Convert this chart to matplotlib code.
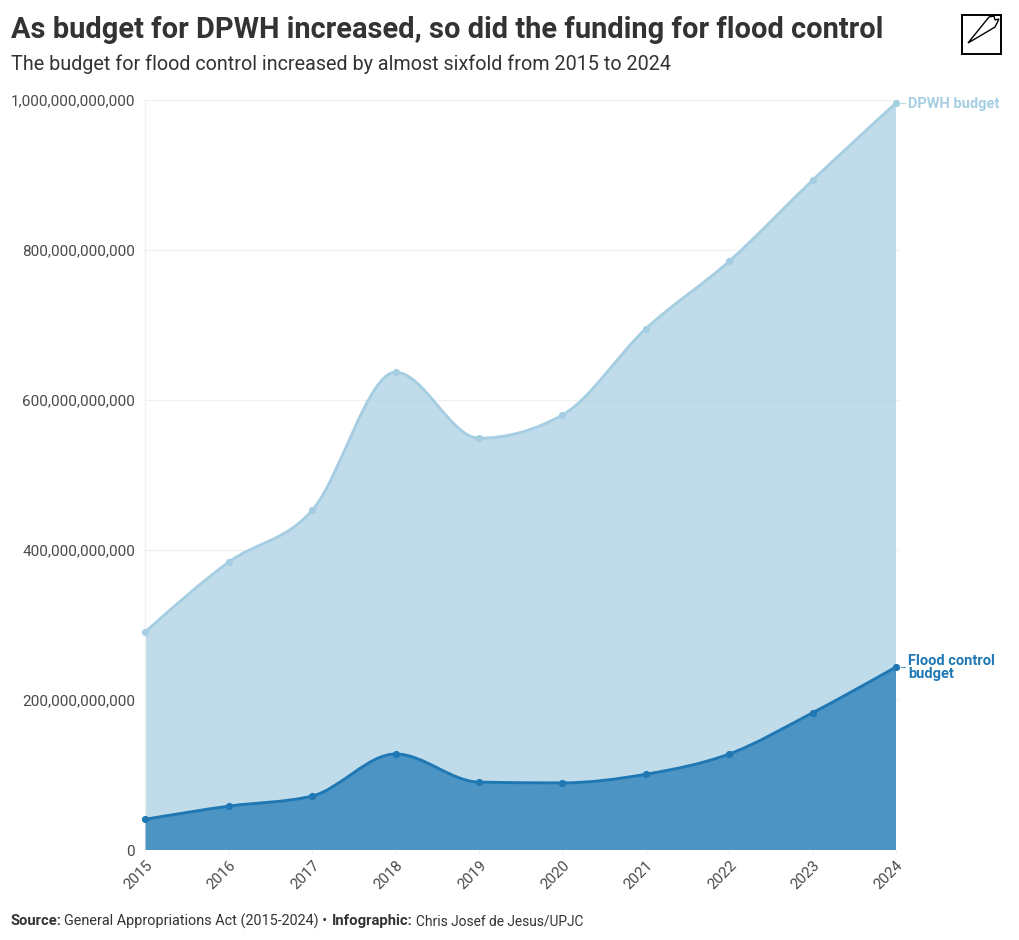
import numpy as np
import matplotlib
matplotlib.use("Agg")
import matplotlib.pyplot as plt
from matplotlib.path import Path
from matplotlib.patches import PathPatch, Rectangle, Polygon
from matplotlib.lines import Line2D

plt.rcParams['font.family'] = ['Roboto', 'DejaVu Sans']

years = [2015, 2016, 2017, 2018, 2019, 2020, 2021, 2022, 2023, 2024]
dpwh_budget = [291e9, 384e9, 453e9, 637e9, 549e9, 580e9, 695e9, 785e9, 893e9, 996e9]
flood_budget = [41e9, 58.5e9, 72e9, 128e9, 90.5e9, 89.5e9, 101e9, 128e9, 183e9, 244e9]
y_ticks = [0, 200e9, 400e9, 600e9, 800e9, 1000e9]

LIGHT = '#a6cee3'
DARK = '#1f78b4'
TEXT = '#333333'
W, H = 1020, 940


def monotone_segments(xs, ys):
    """Bezier control points of a monotone-x curve through the given data."""
    xs, ys = np.asarray(xs, float), np.asarray(ys, float)
    h = np.diff(xs)
    s = np.diff(ys) / h
    t = np.zeros_like(ys)
    for i in range(1, len(ys) - 1):
        p = (s[i - 1] * h[i] + s[i] * h[i - 1]) / (h[i - 1] + h[i])
        t[i] = (np.sign(s[i - 1]) + np.sign(s[i])) * min(abs(s[i - 1]), abs(s[i]), 0.5 * abs(p))
    t[0] = (3 * s[0] - t[1]) / 2
    t[-1] = (3 * s[-1] - t[-2]) / 2
    verts, codes = [(xs[0], ys[0])], [Path.MOVETO]
    for i in range(len(h)):
        d = h[i] / 3
        verts += [(xs[i] + d, ys[i] + t[i] * d), (xs[i + 1] - d, ys[i + 1] - t[i + 1] * d), (xs[i + 1], ys[i + 1])]
        codes += [Path.CURVE4] * 3
    return verts, codes


fig = plt.figure(figsize=(W / 100, H / 100), dpi=100, facecolor='white')
ax = fig.add_axes([145.5 / W, 1 - 850 / H, (896 - 145.5) / W, 750 / H])
ax.set_xlim(years[0], years[-1])
ax.set_ylim(0, 1e12)

for v in y_ticks[1:]:
    ax.axhline(v, xmin=0, xmax=1.003, color='#f0f0f0', lw=0.9, clip_on=False, zorder=0)

for vals, col, alpha, z in [(dpwh_budget, LIGHT, 0.7, 2), (flood_budget, DARK, 0.72, 3)]:
    v, c = monotone_segments(years, vals)
    area = Path(v + [(years[-1], 0), (years[0], 0), (years[0], vals[0])],
                c + [Path.LINETO, Path.LINETO, Path.CLOSEPOLY])
    ax.add_patch(PathPatch(area, facecolor=col, edgecolor='none', alpha=alpha, zorder=z))
    ax.add_patch(PathPatch(Path(v, c), facecolor='none', edgecolor=col, lw=2.1, zorder=z + 2,
                           capstyle='round', clip_on=False))
    ax.plot(years, vals, ls='none', marker='o', ms=5.2, color=col, mew=0, zorder=z + 3, clip_on=False)

for s in ['top', 'right', 'bottom']:
    ax.spines[s].set_visible(False)
ax.spines['left'].set_color('#f0f0f0')
ax.spines['left'].set_linewidth(0.9)

ax.set_xticks(years)
ax.set_xticklabels([str(y) for y in years], rotation=45, ha='right', va='top',
                   rotation_mode='anchor', fontsize=10.9, color='#4a4a4a')
ax.tick_params(axis='x', length=3, width=0.8, color='#f0f0f0', pad=3)
ax.set_yticks(y_ticks)
ax.set_yticklabels([f'{int(v):,}' for v in y_ticks], fontsize=10.95, color='#4a4a4a')
ax.tick_params(axis='y', length=0, pad=7.5)

# Series labels
fig.text(908.5 / W, 1 - 104 / H, 'DPWH budget', color=LIGHT, fontsize=10.5, fontweight='bold', va='center')
fig.text(908.5 / W, 1 - 661 / H, 'Flood control', color=DARK, fontsize=10.5, fontweight='bold', va='center')
fig.text(908.5 / W, 1 - 674 / H, 'budget', color=DARK, fontsize=10.5, fontweight='bold', va='center')
for py, col in [(103, LIGHT), (667, DARK)]:
    fig.add_artist(Line2D([901 / W, 905 / W], [1 - py / H] * 2, color=col, lw=0.9, alpha=0.7))

# Header
fig.text(11 / W, 1 - 30 / H, 'As budget for DPWH increased, so did the funding for flood control',
         fontsize=20.9, fontweight='bold', color=TEXT, va='center')
fig.text(11 / W, 1 - 64 / H, 'The budget for flood control increased by almost sixfold from 2015 to 2024',
         fontsize=14.2, color=TEXT, va='center')

# Footer
fig.text(11 / W, 1 - 921 / H, 'Source:', fontsize=10.6, fontweight='bold', color=TEXT, va='center')
fig.text(64 / W, 1 - 921 / H, 'General Appropriations Act (2015-2024) •', fontsize=10.35, color=TEXT, va='center')
fig.text(332 / W, 1 - 921 / H, 'Infographic:', fontsize=10.7, fontweight='bold', color=TEXT, va='center')
fig.text(416 / W, 1 - 921 / H, 'Chris Josef de Jesus/UPJC', fontsize=9.95, color=TEXT, va='center')

# Logo
fig.add_artist(Rectangle((962 / W, 1 - 54 / H), 39 / W, 39 / H, transform=fig.transFigure,
                         facecolor='white', edgecolor='black', lw=1.4))
pen = [(968, 43), (989, 17), (994, 16), (995, 20), (999, 19), (995, 27), (985, 33)]
fig.add_artist(Polygon([(x / W, 1 - y / H) for x, y in pen], closed=True, transform=fig.transFigure,
                       facecolor='white', edgecolor='black', lw=1.0))

fig.savefig('out.png', dpi=100)
